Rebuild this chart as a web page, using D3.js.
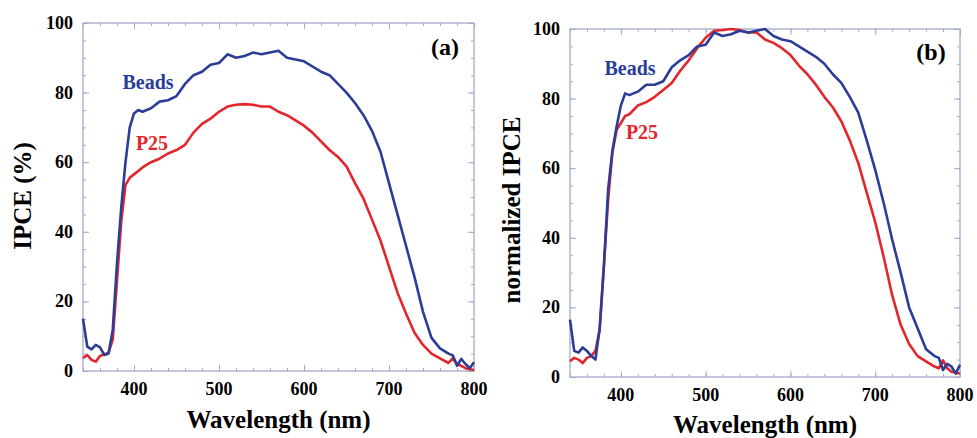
<!DOCTYPE html>
<html>
<head>
<meta charset="utf-8">
<script src="https://cdn.jsdelivr.net/npm/d3@7"></script>
<style>
  body { margin: 0; background: #fff; }
  svg text { font-family: "Liberation Serif", "Times New Roman", serif; font-weight: bold; }
</style>
</head>
<body>
<svg width="977" height="438"></svg>
<script>
// wavelengths (nm) shared by all series
const wavelength = [340,345,350,355,360,365,370,375,380,385,390,395,400,405,410,420,430,440,450,460,470,480,490,500,
  510,520,530,540,550,560,570,580,590,600,610,620,630,640,650,660,670,680,690,700,710,720,730,740,750,760,770,775,780,785,790,795,800];

// panel (a) IPCE (%)
const beadsA = [15,7,6.2,7.5,6.8,4.6,5,11.8,31,47,60,70,74,75,74.5,75.5,77.4,77.8,79,82.5,85,86,88,88.5,
  91,90,90.5,91.5,91,91.5,92,90,89.5,89,87.5,86,85,82.5,80,77,73.5,69,63,54,45,36,27,17,9.5,6.5,5,4.5,1.5,3.5,2,0.8,2.5];
const p25A = [3.7,4.6,3.2,2.7,4.3,4.8,5.2,9,26,43,53.5,55.5,56.5,57.5,58.5,60,61,62.5,63.5,65,68.5,71,72.5,74.5,
  76,76.5,76.7,76.5,76,76,74.5,73.5,72,70.5,68.5,66,63.5,61.5,58.8,54,49.5,43.5,37.5,30,22.5,16.5,11,7.5,5,3.6,2.3,3.7,2,1.5,0.8,0.5,0.3];

// panel (b) normalized IPCE
const beadsB = [16.5,7.5,7,8.5,7.5,6,5,14,32,54,65,72,78,81.5,81,82,84,84,85,89,91,92.5,95,95.5,
  99,98,98.5,99.5,99,99.5,100,98,97,96.5,95,93.5,92,90,87,84.5,80.5,76,68,59.5,50,39.5,30,20,14,8,6,5.5,2,3.8,3,1,3.5];
const p25B = [4.5,5.5,5,4,5.5,6,7.5,13.5,32,51,64.5,71,73,75,75.5,78,79,80.5,82.5,84.5,88,91,94.5,97.5,
  99.5,99.7,100,99.7,99,99,97,96,94.5,92.5,89.5,87,84,80.5,77.5,73.5,68,61.5,53,44.5,34.5,23.5,15,9.5,6,4.5,3,2.5,4.8,2.5,1.5,1.2,1];

const xTicks = [400, 500, 600, 700, 800];
const yTicks = [0, 20, 40, 60, 80, 100];

const blue = "#2b3d97";
const red = "#e3262b";
const frame = "#a3abc9";

const svg = d3.select("svg");

function drawPanel(p) {
  const x = d3.scaleLinear().domain([340, 800]).range([p.left, p.right]);
  const y = d3.scaleLinear().domain([0, 100]).range([p.bottom, p.top]);
  const g = svg.append("g");

  // minor / major ticks, pointing inward on all four sides
  const minorX = d3.range(340, 801, 20);
  const minorY = d3.range(0, 101, 5);
  const axes = [
    [d3.axisBottom(x).tickValues(minorX).tickSize(-3), p.bottom],
    [d3.axisBottom(x).tickValues(xTicks).tickSize(-6), p.bottom],
    [d3.axisTop(x).tickValues(minorX).tickSize(-3), p.top],
    [d3.axisTop(x).tickValues(xTicks).tickSize(-6), p.top]
  ];
  axes.forEach(([ax, ty]) => {
    g.append("g").attr("transform", `translate(0,${ty})`)
      .call(ax.tickFormat("")).call(s => s.select(".domain").remove())
      .selectAll("line").attr("stroke", frame);
  });
  const yAxes = [
    [d3.axisLeft(y).tickValues(minorY).tickSize(-3), p.left],
    [d3.axisLeft(y).tickValues(yTicks).tickSize(-6), p.left],
    [d3.axisRight(y).tickValues(minorY).tickSize(-3), p.right],
    [d3.axisRight(y).tickValues(yTicks).tickSize(-6), p.right]
  ];
  yAxes.forEach(([ax, tx]) => {
    g.append("g").attr("transform", `translate(${tx},0)`)
      .call(ax.tickFormat("")).call(s => s.select(".domain").remove())
      .selectAll("line").attr("stroke", frame);
  });

  g.append("rect")
    .attr("x", p.left).attr("y", p.top)
    .attr("width", p.right - p.left).attr("height", p.bottom - p.top)
    .attr("fill", "none").attr("stroke", frame).attr("stroke-width", 1.3);

  // tick labels
  g.selectAll(".xl").data(xTicks).enter().append("text")
    .attr("x", d => x(d)).attr("y", p.bottom + 24)
    .attr("text-anchor", "middle").style("font-size", "18px").text(d => d);
  g.selectAll(".yl").data(yTicks).enter().append("text")
    .attr("x", p.left - 10).attr("y", d => y(d) + 6)
    .attr("text-anchor", "end").style("font-size", "18px").text(d => d);

  // axis titles
  g.append("text")
    .attr("x", (p.left + p.right) / 2).attr("y", p.bottom + p.xTitleDy)
    .attr("text-anchor", "middle").style("font-size", "25px").text("Wavelength (nm)");
  g.append("text")
    .attr("transform", `translate(${p.yTitleX},${p.yTitleY}) rotate(-90)`)
    .attr("text-anchor", "middle").style("font-size", "25px").text(p.yTitle);

  // curves
  const line = d3.line().x((d, i) => x(wavelength[i])).y(d => y(d));
  g.append("path").datum(p.p25).attr("d", line)
    .attr("fill", "none").attr("stroke", red).attr("stroke-width", 2.6).attr("stroke-linejoin", "round");
  g.append("path").datum(p.beads).attr("d", line)
    .attr("fill", "none").attr("stroke", blue).attr("stroke-width", 2.6).attr("stroke-linejoin", "round");

  // labels
  g.append("text").attr("x", p.beadsLbl[0]).attr("y", p.beadsLbl[1])
    .attr("text-anchor", "middle").style("font-size", "20px").attr("fill", blue).text("Beads");
  g.append("text").attr("x", p.p25Lbl[0]).attr("y", p.p25Lbl[1])
    .attr("text-anchor", "middle").style("font-size", "20px").attr("fill", red).text("P25");
  g.append("text").attr("x", p.tag[0]).attr("y", p.tag[1])
    .attr("text-anchor", "middle").style("font-size", "24px").text(p.tagText);
}

drawPanel({
  left: 83, right: 474, top: 23, bottom: 371,
  beads: beadsA, p25: p25A,
  yTitle: "IPCE (%)", yTitleX: 31, yTitleY: 196,
  xTitleDy: 57,
  beadsLbl: [148, 89], p25Lbl: [152, 150],
  tag: [445, 55], tagText: "(a)"
});

drawPanel({
  left: 570, right: 960, top: 29, bottom: 377,
  beads: beadsB, p25: p25B,
  yTitle: "normalized IPCE", yTitleX: 520, yTitleY: 210,
  xTitleDy: 56,
  beadsLbl: [630, 75], p25Lbl: [642, 139],
  tag: [931, 60], tagText: "(b)"
});
</script>
</body>
</html>
